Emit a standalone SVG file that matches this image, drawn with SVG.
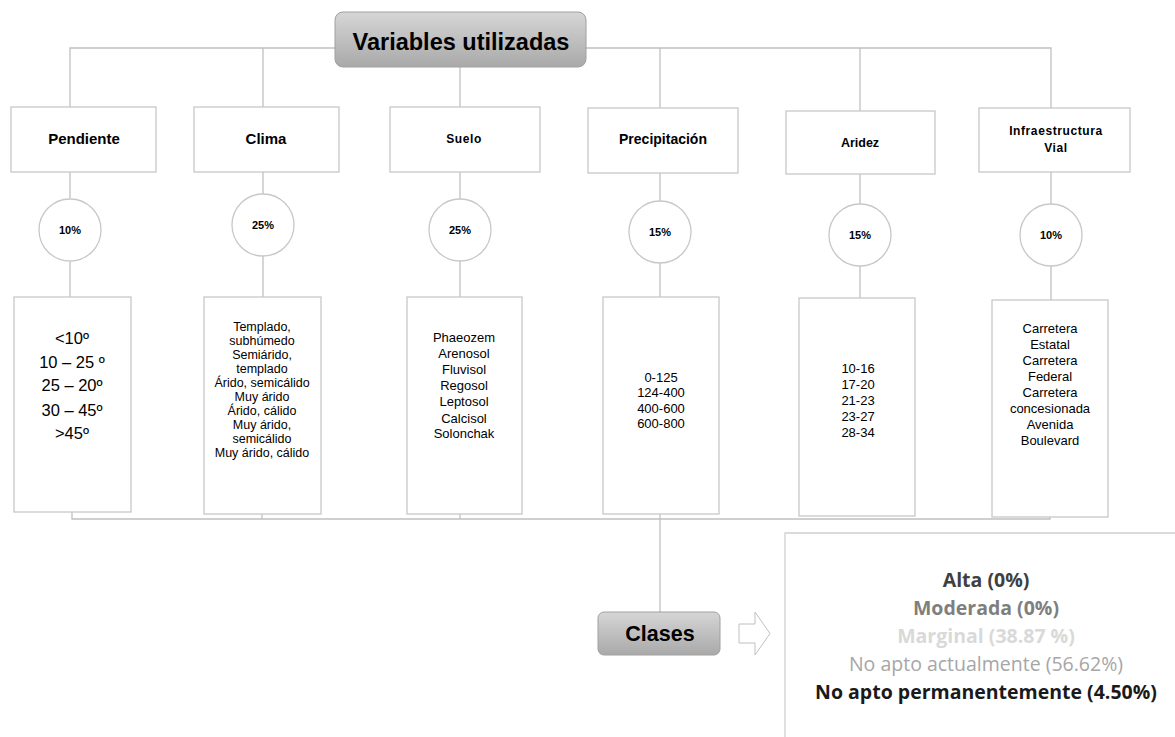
<svg xmlns="http://www.w3.org/2000/svg" width="1175" height="737" viewBox="0 0 1175 737">
<defs>
<linearGradient id="g" x1="0" y1="0" x2="0" y2="1">
<stop offset="0" stop-color="#d6d6d6"/>
<stop offset="1" stop-color="#a9a9a9"/>
</linearGradient>
<style>
.ln{stroke:#c0c0c0;stroke-width:1.3;fill:none}
.bx{fill:#fff;stroke:#c8c8c8;stroke-width:1.3}
.t{font-family:"Liberation Sans",Arial,sans-serif;fill:#000;text-anchor:middle}
.b{font-weight:bold}
.c{font-family:"Open Sans","Liberation Sans",sans-serif;text-anchor:middle;font-size:19.5px}
</style>
</defs>
<rect width="1175" height="737" fill="#fff"/>
<g id="connectors">
<path class="ln" d="M70 107V48H1051V108M263 48V107M460 67V107M660 48V108M860 48V111"/>
<path class="ln" d="M70 172V198M263 172V194M460 172V199M660 173V201M860 174V204M1051 172V204"/>
<path class="ln" d="M70 262V297M263 256V297M460 261V297M660 263V297M860 266V298M1051 266V300"/>
<path class="ln" d="M72 512V519H1050V517M262 514V519M460 514V519M860 516V513M660 514V612"/>
</g>
<g id="title">
<rect x="335" y="12" width="251" height="55" rx="8" fill="url(#g)" stroke="#a0a0a0" stroke-width="1"/>
<text class="t b" x="461" y="50" font-size="23.5">Variables utilizadas</text>
</g>
<g id="pendiente">
<rect class="bx" x="11" y="107" width="145" height="65"/>
<text class="t b" x="84" y="144" font-size="15">Pendiente</text>
<circle class="bx" cx="70" cy="230" r="31"/>
<text class="t b" x="70" y="234" font-size="11">10%</text>
<rect class="bx" x="14" y="297" width="117" height="215"/>
<g font-size="16.5">
<text class="t" x="72" y="344">&lt;10º</text>
<text class="t" x="72" y="368">10 – 25 º</text>
<text class="t" x="72" y="391">25 – 20º</text>
<text class="t" x="72" y="416">30 – 45º</text>
<text class="t" x="72" y="439">&gt;45º</text>
</g>
</g>
<g id="clima">
<rect class="bx" x="194" y="107" width="145" height="65"/>
<text class="t b" x="266" y="144" font-size="15">Clima</text>
<circle class="bx" cx="263" cy="225" r="31"/>
<text class="t b" x="263" y="229" font-size="11">25%</text>
<rect class="bx" x="204" y="297" width="117" height="217"/>
<g font-size="12.5">
<text class="t" x="262" y="331">Templado,</text>
<text class="t" x="262" y="345">subhúmedo</text>
<text class="t" x="262" y="359">Semiárido,</text>
<text class="t" x="262" y="373">templado</text>
<text class="t" x="262" y="387">Árido, semicálido</text>
<text class="t" x="262" y="401">Muy árido</text>
<text class="t" x="262" y="415">Árido, cálido</text>
<text class="t" x="262" y="429">Muy árido,</text>
<text class="t" x="262" y="443">semicálido</text>
<text class="t" x="262" y="457">Muy árido, cálido</text>
</g>
</g>
<g id="suelo">
<rect class="bx" x="390" y="107" width="150" height="65"/>
<text class="t b" x="464" y="143" font-size="12" letter-spacing="0.6">Suelo</text>
<circle class="bx" cx="460" cy="230" r="31"/>
<text class="t b" x="460" y="234" font-size="11">25%</text>
<rect class="bx" x="407" y="297" width="115" height="217"/>
<g font-size="13">
<text class="t" x="464" y="342">Phaeozem</text>
<text class="t" x="464" y="358">Arenosol</text>
<text class="t" x="464" y="374">Fluvisol</text>
<text class="t" x="464" y="390">Regosol</text>
<text class="t" x="464" y="406">Leptosol</text>
<text class="t" x="464" y="423">Calcisol</text>
<text class="t" x="464" y="438">Solonchak</text>
</g>
</g>
<g id="precipitacion">
<rect class="bx" x="588" y="108" width="150" height="65"/>
<text class="t b" x="663" y="144" font-size="14">Precipitación</text>
<circle class="bx" cx="660" cy="232" r="31"/>
<text class="t b" x="660" y="236" font-size="11">15%</text>
<rect class="bx" x="603" y="297" width="116" height="217"/>
<g font-size="13">
<text class="t" x="661" y="382">0-125</text>
<text class="t" x="661" y="397">124-400</text>
<text class="t" x="661" y="413">400-600</text>
<text class="t" x="661" y="428">600-800</text>
</g>
</g>
<g id="aridez">
<rect class="bx" x="786" y="111" width="149" height="63"/>
<text class="t b" x="860" y="147" font-size="12.5">Aridez</text>
<circle class="bx" cx="860" cy="235" r="31"/>
<text class="t b" x="860" y="239" font-size="11">15%</text>
<rect class="bx" x="799" y="298" width="116" height="218"/>
<g font-size="13">
<text class="t" x="858" y="373">10-16</text>
<text class="t" x="858" y="389">17-20</text>
<text class="t" x="858" y="405">21-23</text>
<text class="t" x="858" y="421">23-27</text>
<text class="t" x="858" y="437">28-34</text>
</g>
</g>
<g id="infraestructura">
<rect class="bx" x="979" y="108" width="151" height="64"/>
<text class="t b" x="1056" y="135" font-size="12" letter-spacing="0.6">Infraestructura</text>
<text class="t b" x="1056" y="152" font-size="12" letter-spacing="0.6">Vial</text>
<circle class="bx" cx="1051" cy="235" r="31"/>
<text class="t b" x="1051" y="239" font-size="11">10%</text>
<rect class="bx" x="992" y="300" width="116" height="217"/>
<g font-size="13">
<text class="t" x="1050" y="333">Carretera</text>
<text class="t" x="1050" y="349">Estatal</text>
<text class="t" x="1050" y="365">Carretera</text>
<text class="t" x="1050" y="381">Federal</text>
<text class="t" x="1050" y="397">Carretera</text>
<text class="t" x="1050" y="413">concesionada</text>
<text class="t" x="1050" y="429">Avenida</text>
<text class="t" x="1050" y="445">Boulevard</text>
</g>
</g>
<g id="clases">
<rect x="598" y="612" width="122" height="43" rx="6" fill="url(#g)" stroke="#a0a0a0" stroke-width="1"/>
<text class="t b" x="660" y="641" font-size="21.5">Clases</text>
</g>
<g id="arrow">
<path d="M739 624H755V612L770 633.5L755 655V643H739Z" fill="#fff" stroke="#c0c0c0" stroke-width="1"/>
</g>
<g id="resultados">
<path d="M785 737V533H1175" fill="none" stroke="#d0d0d0" stroke-width="1.3"/>
<text class="c" x="986" y="587" font-weight="bold" fill="#404040">Alta (0%)</text>
<text class="c" x="986" y="615" font-weight="bold" fill="#7f7f7f">Moderada (0%)</text>
<text class="c" x="986" y="643" font-weight="bold" fill="#d9d9d9">Marginal (38.87 %)</text>
<text class="c" x="986" y="671" fill="#a6a6a6">No apto actualmente (56.62%)</text>
<text class="c" x="986" y="699" font-weight="bold" fill="#1a1a1a">No apto permanentemente (4.50%)</text>
</g>
</svg>
